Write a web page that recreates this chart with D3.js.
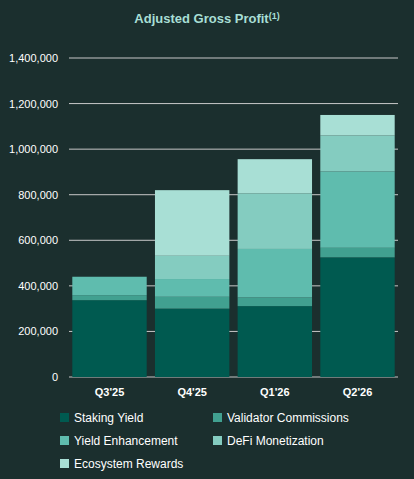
<!DOCTYPE html>
<html><head><meta charset="utf-8">
<script src="https://cdn.jsdelivr.net/npm/d3@7"></script>
<style>
body{margin:0;background:#1b2f2e;font-family:"Liberation Sans",Arial,sans-serif;}
</style></head>
<body><div id="chart"></div>
<script>
const quarters = ["Q3'25", "Q4'25", "Q1'26", "Q2'26"];
const seriesNames = ["Staking Yield", "Validator Commissions", "Yield Enhancement", "DeFi Monetization", "Ecosystem Rewards"];
const stakingYield = [337000, 300000, 311000, 525000];
const validatorCommissions = [22000, 52000, 38000, 42000];
const yieldEnhancement = [81000, 78000, 213000, 335000];
const defiMonetization = [0, 102000, 244000, 158000];
const ecosystemRewards = [0, 288000, 150000, 90000];
const yTicks = [0, 200000, 400000, 600000, 800000, 1000000, 1200000, 1400000];
const colors = ["#005a50", "#41a090", "#5fbcae", "#84ccc0", "#a8dfd5"];

const width = 414, height = 479;
const svg = d3.select('#chart').append('svg').attr('width', width).attr('height', height);

svg.append('text').attr('x', 207).attr('y', 23).attr('text-anchor', 'middle')
  .attr('fill', '#a8dfd5').attr('font-size', '13px').attr('font-weight', 'bold')
  .text('Adjusted Gross Profit')
  .append('tspan').attr('font-size', '9px').attr('dy', -4).text('(1)');

const x = d3.scaleBand().domain(quarters).range([69, 398]).paddingInner(0.1).paddingOuter(0.04);
const y = d3.scaleLinear().domain([0, 1400000]).range([377, 58]);

svg.append('g').selectAll('line').data(yTicks).enter().append('line')
  .attr('x1', 69).attr('x2', 398).attr('y1', d => y(d)).attr('y2', d => y(d))
  .attr('stroke', '#c8c8c8').attr('stroke-width', 1);

svg.append('g').selectAll('text').data(yTicks).enter().append('text')
  .attr('x', 58).attr('y', d => y(d) + 4).attr('text-anchor', 'end')
  .attr('fill', '#ffffff').attr('font-size', '11px')
  .text(d => d3.format(',')(d));

const rows = quarters.map((q, i) => ({
  q, s0: stakingYield[i], s1: validatorCommissions[i], s2: yieldEnhancement[i],
  s3: defiMonetization[i], s4: ecosystemRewards[i]
}));
const stack = d3.stack().keys(['s0', 's1', 's2', 's3', 's4'])(rows);

svg.append('g').selectAll('g').data(stack).enter().append('g')
  .attr('fill', (d, i) => colors[i])
  .selectAll('rect').data(d => d).enter().append('rect')
  .attr('x', d => x(d.data.q)).attr('width', x.bandwidth())
  .attr('y', d => y(d[1])).attr('height', d => y(d[0]) - y(d[1]));

svg.append('g').selectAll('text').data(quarters).enter().append('text')
  .attr('x', d => x(d) + x.bandwidth() / 2).attr('y', 396).attr('text-anchor', 'middle')
  .attr('fill', '#ffffff').attr('font-size', '11px').attr('font-weight', 'bold')
  .text(d => d);

const legendPos = [[60, 418], [213, 418], [60, 441], [213, 441], [60, 464]];
const legend = svg.append('g').selectAll('g').data(seriesNames).enter().append('g')
  .attr('transform', (d, i) => `translate(${legendPos[i][0]},${legendPos[i][1]})`);
legend.append('rect').attr('x', 0).attr('y', -5).attr('width', 9).attr('height', 9)
  .attr('fill', (d, i) => colors[i]);
legend.append('text').attr('x', 14).attr('y', 4).attr('fill', '#ffffff')
  .attr('font-size', '12px').text(d => d);
</script></body></html>
